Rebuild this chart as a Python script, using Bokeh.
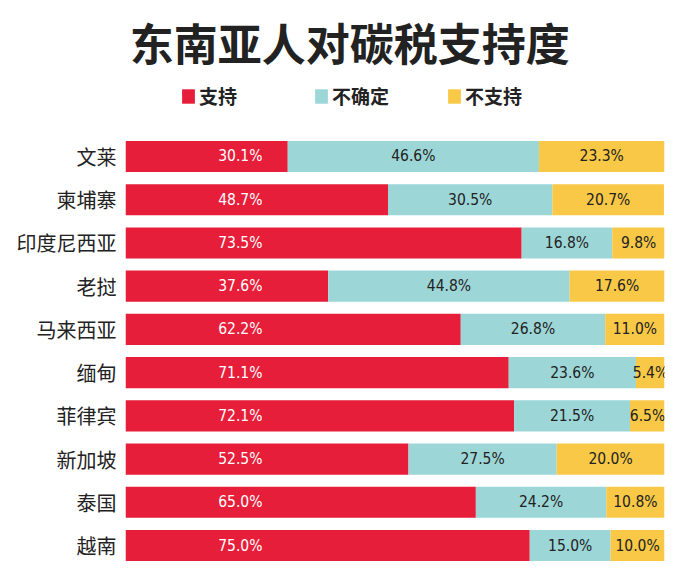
from bokeh.plotting import figure
from bokeh.models import ColumnDataSource, Range1d, FixedTicker, Label, Legend, LegendItem
from bokeh.core.properties import value
from bokeh.embed import file_html
from bokeh.resources import INLINE

title = "东南亚人对碳税支持度"
countries = ["文莱", "柬埔寨", "印度尼西亚", "老挝", "马来西亚", "缅甸", "菲律宾", "新加坡", "泰国", "越南"]
support = [30.1, 48.7, 73.5, 37.6, 62.2, 71.1, 72.1, 52.5, 65.0, 75.0]
unsure = [46.6, 30.5, 16.8, 44.8, 26.8, 23.6, 21.5, 27.5, 24.2, 15.0]
oppose = [23.3, 20.7, 9.8, 17.6, 11.0, 5.4, 6.5, 20.0, 10.8, 10.0]
series_names = ["支持", "不确定", "不支持"]
colors = ["#E61E3A", "#9DD6D7", "#F8C846"]

n = len(countries)
ypos = [n - 1 - i for i in range(n)]
s2_right = [a + b for a, b in zip(support, unsure)]
s3_right = [a + b + c for a, b, c in zip(support, unsure, oppose)]

src = ColumnDataSource(dict(
    y=ypos,
    l1=[0] * n, r1=support,
    l2=support, r2=s2_right,
    l3=s2_right, r3=s3_right,
    t1=[f"{v:.1f}%" for v in support],
    t2=[f"{v:.1f}%" for v in unsure],
    t3=[f"{v:.1f}%" for v in oppose],
    x1=[21.3] * n,
    x2=[(a + b) / 2 for a, b in zip(support, s2_right)],
    x3=[(a + b) / 2 for a, b in zip(s2_right, s3_right)],
))

p = figure(width=694, height=570, output_backend="svg", toolbar_location=None,
           x_range=Range1d(0, 100), y_range=Range1d(-0.578, 12.609),
           min_border_left=125, min_border_right=30, min_border_top=0, min_border_bottom=0)
p.outline_line_color = None
p.xgrid.visible = False
p.ygrid.visible = False
p.xaxis.visible = False
p.background_fill_color = "white"
p.border_fill_color = "white"

yax = p.yaxis[0]
yax.ticker = FixedTicker(ticks=ypos)
yax.major_label_overrides = {y: c for y, c in zip(ypos, countries)}
yax.axis_line_color = None
yax.major_tick_line_color = None
yax.minor_tick_line_color = None
yax.major_label_standoff = 3
yax.major_label_text_font = "Noto Sans CJK SC"
yax.major_label_text_font_size = "20px"
yax.major_label_text_color = "#222222"

bh = 0.72
r1 = p.hbar(y="y", left="l1", right="r1", height=bh, source=src, fill_color=colors[0], line_color=None)
r2 = p.hbar(y="y", left="l2", right="r2", height=bh, source=src, fill_color=colors[1], line_color=None)
r3 = p.hbar(y="y", left="l3", right="r3", height=bh, source=src, fill_color=colors[2], line_color=None)

vfont = value("'DejaVu Sans Condensed', 'Liberation Sans Narrow', Roboto, sans-serif")
for xcol, tcol, tc in [("x1", "t1", "white"), ("x2", "t2", "#222222"), ("x3", "t3", "#222222")]:
    p.text(x=xcol, y="y", text=tcol, source=src, text_color=tc, text_font=vfont,
           text_font_size="15.5px", text_align="center", text_baseline="middle")

p.add_layout(Label(x=41.6, y=11.66, text=title, text_font="Noto Sans CJK SC",
                   text_font_size="44px", text_font_style="bold", text_color="#222222",
                   text_align="center", text_baseline="middle"))

lg = Legend(items=[LegendItem(label=nm, renderers=[rr]) for nm, rr in zip(series_names, [r1, r2, r3])],
            location=(55, 461), orientation="horizontal", margin=0, padding=0, spacing=56,
            border_line_alpha=0, background_fill_alpha=0,
            glyph_width=16, glyph_height=18, label_standoff=3, label_width=58,
            label_text_font="Noto Sans CJK SC", label_text_font_size="19px",
            label_text_font_style="bold", label_text_color="#222222")
p.add_layout(lg, "center")

open("out.html", "w").write(file_html(p, INLINE))
